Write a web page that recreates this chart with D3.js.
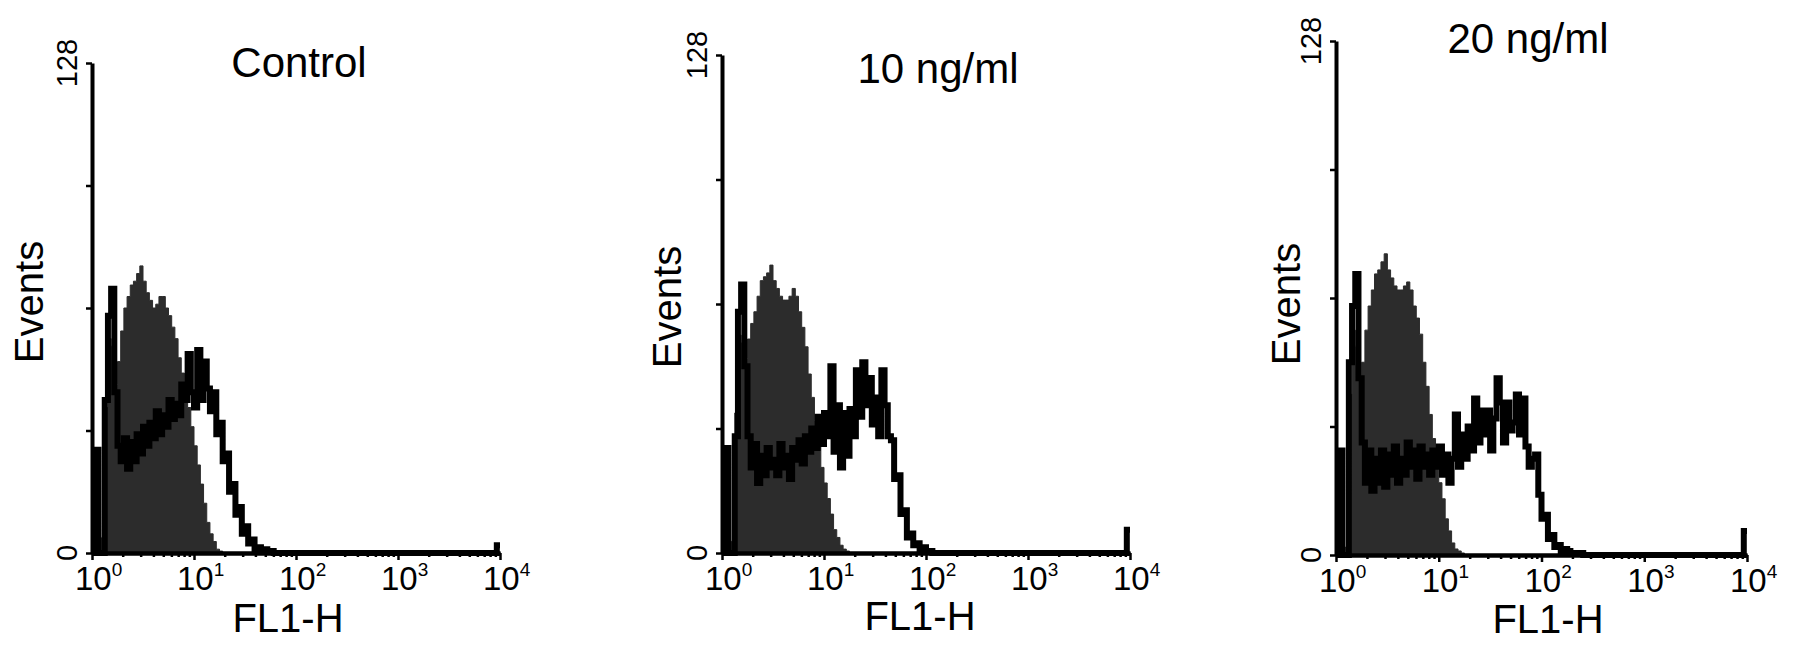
<!DOCTYPE html>
<html>
<head>
<meta charset="utf-8">
<script src="https://cdn.jsdelivr.net/npm/d3@7"></script>
<style>
body { margin: 0; background: #fff; }
svg { display: block; font-family: "Liberation Sans", Arial, Helvetica, sans-serif; }
.domain { stroke: #000; stroke-width: 4; }
.tick line { stroke: #000; stroke-width: 2.5; }
</style>
</head>
<body>
<svg id="chart" width="1795" height="646"></svg>
<script>
// flow cytometry histograms, FL1-H, 3 conditions

var titles = ["Control", "10 ng/ml", "20 ng/ml"];
var yTicks = [0, 32, 64, 96, 128],
    yLabels = [0, 128];
var xDecades = [1, 10, 100, 1000, 10000],
    xSup = ["0", "1", "2", "3", "4"];
var xMinor = [2, 3, 4, 5, 6, 7, 8, 9, 20, 30, 40, 50, 60, 70, 80, 90,
    200, 300, 400, 500, 600, 700, 800, 900, 2000, 3000, 4000, 5000, 6000, 7000, 8000, 9000];

// channels: 32 per decade, values = events per channel
var binsPerDecade = 32;

// filled (control) histograms
var filled1 = [0, 0, 0, 4, 38, 56, 54, 44, 50, 58, 64, 67, 70, 71, 73, 75, 71, 68, 66, 64,
    65, 67, 67, 64, 62, 59, 56, 51, 47, 43, 38, 33, 28, 23, 18, 13, 8, 5, 3, 1, 0.5];
var filled2 = [0, 0, 0, 3, 36, 56, 54, 50, 55, 59, 62, 66, 70, 71, 72, 74, 70, 68, 66, 65,
    65, 66, 68, 66, 62, 58, 53, 46, 40, 34, 28, 22, 18, 14, 10, 6, 4, 2, 1, 0.5, 0];
var filled3 = [0, 0, 0, 2, 40, 56, 52, 44, 48, 56, 62, 66, 70, 71, 73, 75, 71, 69, 67, 66,
    66, 67, 68, 66, 62, 59, 55, 48, 42, 35, 29, 22, 18, 14, 9, 6, 3, 1.5, 1, 0.5, 0];

// open (treated) histograms
var open1 = [0, 27, 0, 0, 40, 62, 69, 42, 28, 24, 30, 22, 29, 24, 31, 26, 33, 28, 34, 30,
    37, 31, 36, 33, 40, 35, 39, 36, 44, 40, 52, 42, 38, 53, 40, 50, 43, 37, 42, 31,
    34, 24, 26, 16, 18, 10, 12, 5, 7, 2.5, 3.5, 1, 1.5, 1, 1, 0.5, 0.5];
var open2 = [0, 27, 0, 0, 30, 62, 69, 48, 30, 22, 28, 18, 25, 20, 27, 22, 24, 20, 28, 22,
    25, 19, 27, 24, 29, 23, 30, 26, 32, 27, 35, 28, 36, 30, 48, 26, 38, 22, 36, 25,
    37, 30, 47, 35, 49, 38, 45, 33, 40, 30, 47, 38, 30, 29, 19, 20, 10, 11, 4, 5,
    2, 2.5, 1, 1.5, 0.5, 0.5];
var open3 = [0, 26, 0, 0, 48, 62, 70, 44, 28, 18, 26, 16, 24, 18, 26, 17, 25, 20, 27, 18,
    24, 20, 28, 22, 26, 19, 27, 22, 25, 20, 26, 22, 27, 20, 25, 18, 24, 35, 22, 30,
    24, 32, 26, 39, 28, 36, 30, 36, 26, 34, 44, 38, 28, 38, 31, 33, 40, 30, 39, 27,
    22, 24, 25, 15, 9, 10, 4, 5, 2, 2.5, 1, 1.5, 1, 0.5, 0.5, 0.5, 0.5];

// pile-up in the last channel (10^4)
var lastChannel = [2, 6, 6];

var filledSets = [filled1, filled2, filled3],
    openSets = [open1, open2, open3];

// panel placement
var panels = [
    {x0: 92,   x1: 500,  top: 63, base: 553, tx: 299,  ty: 77, ex: 43,   ey: 302, fx: 288,  fy: 632},
    {x0: 722,  x1: 1130, top: 55, base: 553, tx: 938,  ty: 83, ex: 681,  ey: 307, fx: 920,  fy: 630},
    {x0: 1336, x1: 1747, top: 41, base: 555, tx: 1528, ty: 53, ex: 1300, ey: 304, fx: 1548, fy: 633}
];

var svg = d3.select("#chart");
var nBins = 4 * binsPerDecade;

function edge(i) { return Math.pow(10, i / binsPerDecade); }

function channels(vals, last) {
    var out = [];
    for (var i = 0; i < nBins; i++) out.push(i < vals.length ? vals[i] : 0);
    if (last != null) out[nBins - 1] = last;
    var pts = out.map(function(v, i) { return {x: edge(i), v: v}; });
    pts.push({x: edge(nBins), v: out[nBins - 1]});
    return pts;
}

panels.forEach(function(p, k) {
    var x = d3.scaleLog().domain([1, 1e4]).range([p.x0, p.x1]),
        y = d3.scaleLinear().domain([0, 128]).range([p.base, p.top]);

    var g = svg.append("g");

    var area = d3.area()
        .curve(d3.curveStepAfter)
        .x(function(d) { return x(d.x); })
        .y0(p.base)
        .y1(function(d) { return y(d.v); });

    var line = d3.line()
        .curve(d3.curveStepAfter)
        .x(function(d) { return x(d.x); })
        .y(function(d) { return y(d.v); });

    g.append("path")
        .attr("d", area(channels(filledSets[k])))
        .attr("fill", "#2c2c2c")
        .attr("stroke", "#2c2c2c")
        .attr("stroke-width", 1);

    g.append("path")
        .attr("d", line(channels(openSets[k], lastChannel[k])))
        .attr("fill", "none")
        .attr("stroke", "#000")
        .attr("stroke-width", 6);

    // x axis: minor then major ticks
    g.append("g")
        .attr("transform", "translate(0," + p.base + ")")
        .call(d3.axisBottom(x).tickValues(xMinor).tickSize(4).tickSizeOuter(0).tickFormat(""));
    g.append("g")
        .attr("transform", "translate(0," + p.base + ")")
        .call(d3.axisBottom(x).tickValues(xDecades).tickSize(7).tickSizeOuter(0).tickFormat(""));

    var lab = g.append("g").selectAll("text")
        .data(xDecades)
        .join("text")
        .attr("x", function(d) { return x(d) - 17; })
        .attr("y", p.base + 37)
        .attr("font-size", 33);
    lab.append("tspan").text("10");
    lab.append("tspan")
        .attr("dy", -14)
        .attr("font-size", 19)
        .text(function(d) { return xSup[Math.round(Math.log10(d))]; });

    // y axis
    g.append("g")
        .attr("transform", "translate(" + p.x0 + ",0)")
        .call(d3.axisLeft(y).tickValues(yTicks).tickSize(6).tickSizeOuter(0).tickFormat(""));

    g.append("g").selectAll("text")
        .data(yLabels)
        .join("text")
        .attr("transform", function(d) { return "translate(" + (p.x0 - 15) + "," + y(d) + ") rotate(-90)"; })
        .attr("text-anchor", "middle")
        .attr("font-size", 29)
        .text(function(d) { return d; });

    // titles and axis names
    g.append("text")
        .attr("x", p.tx).attr("y", p.ty)
        .attr("text-anchor", "middle")
        .attr("font-size", 42)
        .text(titles[k]);

    g.append("text")
        .attr("transform", "translate(" + p.ex + "," + p.ey + ") rotate(-90)")
        .attr("text-anchor", "middle")
        .attr("font-size", 40)
        .text("Events");

    g.append("text")
        .attr("x", p.fx).attr("y", p.fy)
        .attr("text-anchor", "middle")
        .attr("font-size", 40)
        .text("FL1-H");
});
</script>
</body>
</html>
